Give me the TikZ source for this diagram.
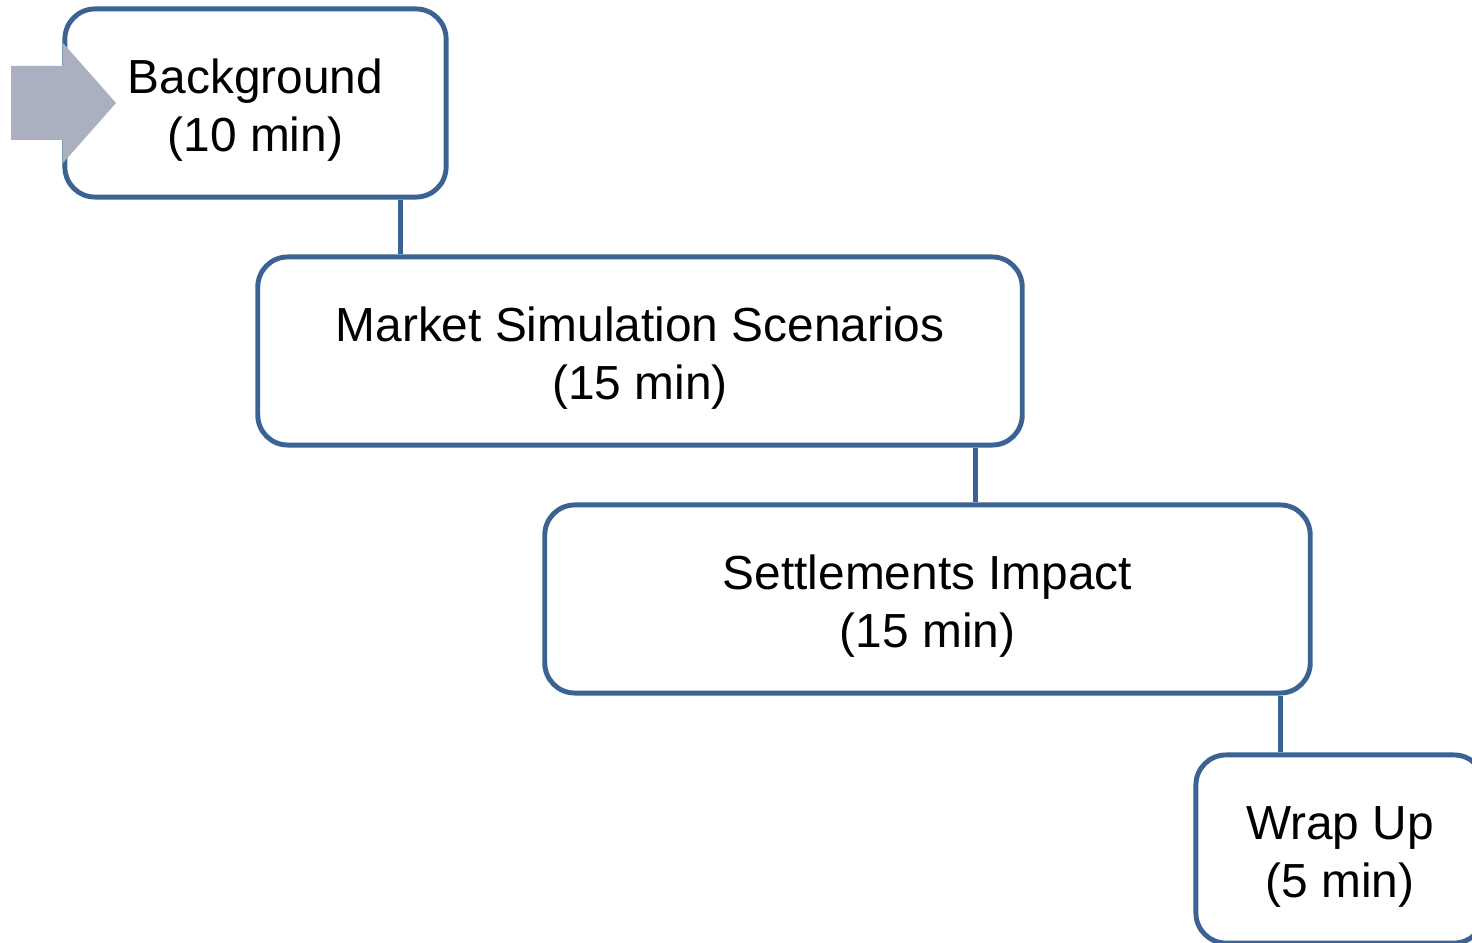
\documentclass[tikz,border=0pt]{standalone}
\usepackage{fontspec}
\setmainfont{Liberation Sans}
\usetikzlibrary{calc,positioning}
\definecolor{boxblue}{RGB}{58,99,148}
\definecolor{arrowgray}{RGB}{170,176,191}
\tikzset{
    stage/.style={
           rectangle, rounded corners=0.3cm,
           draw=boxblue, line width=1.4pt,
           fill=white,
           minimum height=1.88cm,
           inner sep=0pt,
           align=center,
           text height=30.4pt,
           font=\fontsize{13.6pt}{16.5pt}\selectfont},
    link/.style={
           draw=boxblue, line width=1.4pt}
}
\begin{document}
\begin{tikzpicture}[x=0.01cm, y=-0.01cm]
        \useasboundingbox (0,0) rectangle (1472,943);
        \clip (0,0) rectangle (1472,943);
        \node[stage, minimum width=3.81cm] (bg) at (255.5,103) {Background\\(10 min)};
        \node[stage, minimum width=7.64cm] (ms) at (640,351) {Market Simulation Scenarios\\(15 min)};
        \node[stage, minimum width=7.65cm] (si) at (927.5,599) {Settlements Impact\\(15 min)};
        \node[stage, minimum width=2.88cm] (wu) at (1340,849) {Wrap Up\\(5 min)};

        \coordinate (c1) at ($(bg.south west)!0.875!(bg.south east)$);
        \coordinate (c2) at ($(ms.south west)!0.936!(ms.south east)$);
        \coordinate (c3) at ($(si.south west)!0.958!(si.south east)$);
        \draw[link] (c1) -- (c1 |- ms.north);
        \draw[link] (c2) -- (c2 |- si.north);
        \draw[link] (c3) -- (c3 |- wu.north);

        % start arrow
        \fill[arrowgray] (11,66) -- (63,66) -- (63,43) -- (116,103) -- (63,163)
            -- (63,140) -- (11,140) -- cycle;
\end{tikzpicture}
\end{document}
